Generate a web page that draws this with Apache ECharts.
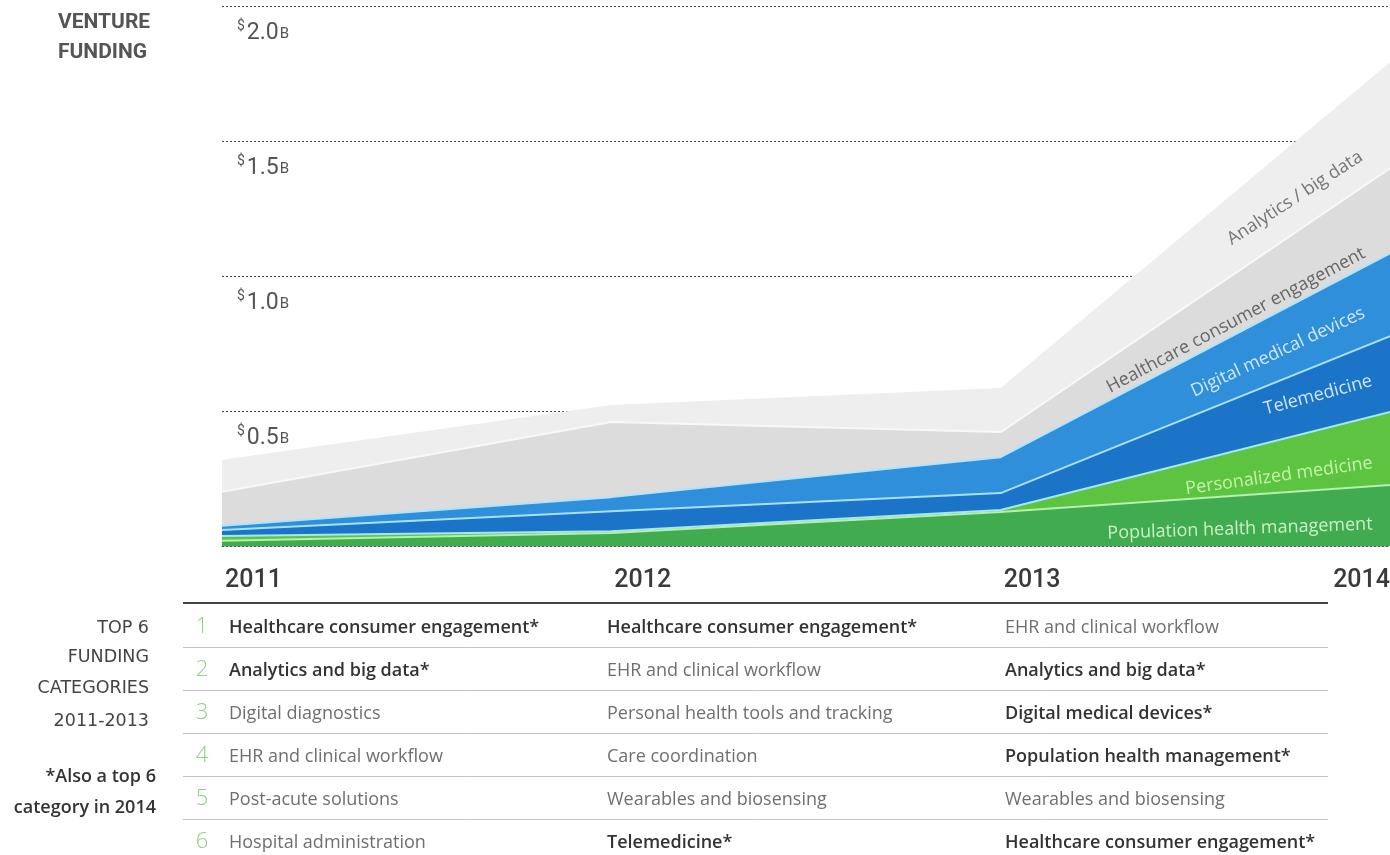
<!DOCTYPE html>
<html><head><meta charset="utf-8">
<script src="https://cdn.jsdelivr.net/npm/echarts@6/dist/echarts.min.js"></script>
<style>html,body{margin:0;padding:0;background:#fff}#c{width:1390px;height:855px}</style>
</head><body><div id="c"></div>
<script>
// ---- data ----
const years = ['2011', '2012', '2013', '2014'];
const yTickValues = [0, 0.5, 1.0, 1.5, 2.0];
const seriesNames = ['Population health management', 'Personalized medicine', 'Telemedicine',
  'Digital medical devices', 'Healthcare consumer engagement', 'Analytics / big data'];
const populationHealth = [0.019, 0.048, 0.126, 0.226];
const personalizedMedicine = [0.018, 0.007, 0.007, 0.270];
const telemedicine = [0.022, 0.074, 0.063, 0.281];
const digitalDevices = [0.016, 0.052, 0.133, 0.307];
const consumerEngagement = [0.126, 0.278, 0.093, 0.315];
const analyticsBigData = [0.118, 0.063, 0.163, 0.393];

const rankNumbers = ['1', '2', '3', '4', '5', '6'];
const top2011 = ['Healthcare consumer engagement*', 'Analytics and big data*', 'Digital diagnostics',
  'EHR and clinical workflow', 'Post-acute solutions', 'Hospital administration'];
const top2012 = ['Healthcare consumer engagement*', 'EHR and clinical workflow', 'Personal health tools and tracking',
  'Care coordination', 'Wearables and biosensing', 'Telemedicine*'];
const top2013 = ['EHR and clinical workflow', 'Analytics and big data*', 'Digital medical devices*',
  'Population health management*', 'Wearables and biosensing', 'Healthcare consumer engagement*'];
const titleLines = ['VENTURE', 'FUNDING'];
const tableTitleLines = ['TOP 6', 'FUNDING', 'CATEGORIES', '2011-2013'];
const noteLines = ['*Also a top 6', 'category in 2014'];

// ---- styles ----
const seriesValues = [populationHealth, personalizedMedicine, telemedicine, digitalDevices, consumerEngagement, analyticsBigData];
const areaColors = ['#41ab4f', '#5cc440', '#1c74c9', '#2f8fdb', '#dcdcdc', '#eeeeee'];
const lineColors = ['#b6efb0', '#a6e6ee', '#a8e0fa', '#b0e4fb', '#f8f8f8', '#eeeeee'];
const labelColors = ['#c9f2c4', '#c4f3a8', '#cfe6ff', '#cfe8ff', '#666666', '#777777'];
const labelOffsets = [[-150, 44], [-111, 64], [-72, 59], [-112, 99], [-154, 152], [-95, 136]];
const labelAngles = [2, 8, 15, 25, 28, 33];

const chart = echarts.init(document.getElementById('c'), null, {renderer: 'canvas'});

const option = {
  animation: false,
  backgroundColor: '#ffffff',
  grid: {left: 222, right: 0, top: 6, bottom: 309, containLabel: false, outerBoundsMode: 'none'},
  xAxis: {
    type: 'category', data: years, boundaryGap: false, z: 20,
    axisLine: {show: true, lineStyle: {color: '#555', type: [2, 2], width: 1}},
    axisTick: {show: false},
    axisLabel: {fontFamily: 'Roboto', fontSize: 25, fontWeight: 500, color: '#3a3a3a', margin: 22,
      align: 'left', alignMinLabel: 'left', alignMaxLabel: 'right', padding: [0, 0, 0, 3]},
    splitLine: {show: false}
  },
  yAxis: {
    type: 'value', min: 0, max: 2, interval: 0.5,
    axisLine: {show: false}, axisTick: {show: false},
    splitLine: {show: true, lineStyle: {color: '#444', type: [2, 2], width: 1}},
    axisLabel: {
      inside: true, margin: 15, verticalAlign: 'top', padding: [13, 0, 0, 0],
      formatter: function (v) {
        if (yTickValues.indexOf(v) <= 0) return '';
        return '{s|$}{n|' + v.toFixed(1) + '}{u|B}';
      },
      rich: {
        s: {fontFamily: 'Roboto', fontSize: 14, color: '#555', verticalAlign: 'top', lineHeight: 14, padding: [0, 2, 0, 0]},
        n: {fontFamily: 'Roboto', fontSize: 23, color: '#555', verticalAlign: 'bottom', lineHeight: 26},
        u: {fontFamily: 'Roboto', fontSize: 15, color: '#555', verticalAlign: 'bottom', lineHeight: 15, padding: [0, 0, 3, 1]}
      }
    }
  },
  series: seriesValues.map(function (vals, i) {
    return {
      name: seriesNames[i], type: 'line', stack: 'total', data: vals,
      symbol: 'none', smooth: false, z: 2 + (6 - i),
      areaStyle: {color: areaColors[i], opacity: 1},
      lineStyle: {color: lineColors[i], width: i === 5 ? 0 : 2}
    };
  })
};
chart.setOption(option);

// ---- graphics: series labels anchored on the 2014 point, table ----
const g = [];
let cum = 0;
seriesValues.forEach(function (vals, i) {
  cum += vals[3];
  const p = chart.convertToPixel({gridIndex: 0}, [years[3], cum]);
  g.push({
    type: 'text', z: 100, x: p[0] + labelOffsets[i][0], y: p[1] + labelOffsets[i][1],
    rotation: labelAngles[i] * Math.PI / 180,
    style: {text: seriesNames[i], fill: labelColors[i], fontFamily: 'Open Sans', fontSize: 18,
      align: 'center', verticalAlign: 'middle'}
  });
});

titleLines.forEach(function (t, i) {
  g.push({type: 'text', z: 100, x: 58, y: 23 + 30 * i,
    style: {text: t, fill: '#555', fontFamily: 'Roboto', fontWeight: 'bold', fontSize: 21, align: 'left', verticalAlign: 'middle'}});
});

const tableLeft = 183, tableRight = 1328;
g.push({type: 'line', z: 100, shape: {x1: tableLeft, y1: 603, x2: tableRight, y2: 603}, style: {stroke: '#444', lineWidth: 2}});
for (let i = 0; i < 5; i++) {
  const y = 647.5 + 43 * i;
  g.push({type: 'line', z: 100, shape: {x1: tableLeft, y1: y, x2: tableRight, y2: y}, style: {stroke: '#c4c4c4', lineWidth: 1}});
}
const colX = [229, 607, 1005];
[top2011, top2012, top2013].forEach(function (col, c) {
  col.forEach(function (t, r) {
    const bold = t.endsWith('*');
    g.push({type: 'text', z: 100, x: colX[c], y: 628 + 43 * r,
      style: {text: t, fill: bold ? '#333' : '#6f6f6f', fontFamily: 'Open Sans', fontWeight: bold ? 600 : 'normal',
        fontSize: 18, align: 'left', verticalAlign: 'middle'}});
  });
});
rankNumbers.forEach(function (n, r) {
  g.push({type: 'text', z: 100, x: 202, y: 627 + 43 * r,
    style: {text: n, fill: '#8fd184', fontFamily: 'Open Sans', fontWeight: 300, fontSize: 22, align: 'center', verticalAlign: 'middle'}});
});
const ttY = [628, 657, 688, 721];
tableTitleLines.forEach(function (t, i) {
  g.push({type: 'text', z: 100, x: 149, y: ttY[i],
    style: {text: t, fill: '#444', fontFamily: 'DejaVu Sans', fontSize: 17.5, align: 'right', verticalAlign: 'middle'}});
});
const noteY = [777, 808];
noteLines.forEach(function (t, i) {
  g.push({type: 'text', z: 100, x: 156, y: noteY[i],
    style: {text: t, fill: '#333', fontFamily: 'Open Sans', fontWeight: 600, fontSize: 18, align: 'right', verticalAlign: 'middle'}});
});

chart.setOption({graphic: {elements: g}});
</script>
</body></html>
